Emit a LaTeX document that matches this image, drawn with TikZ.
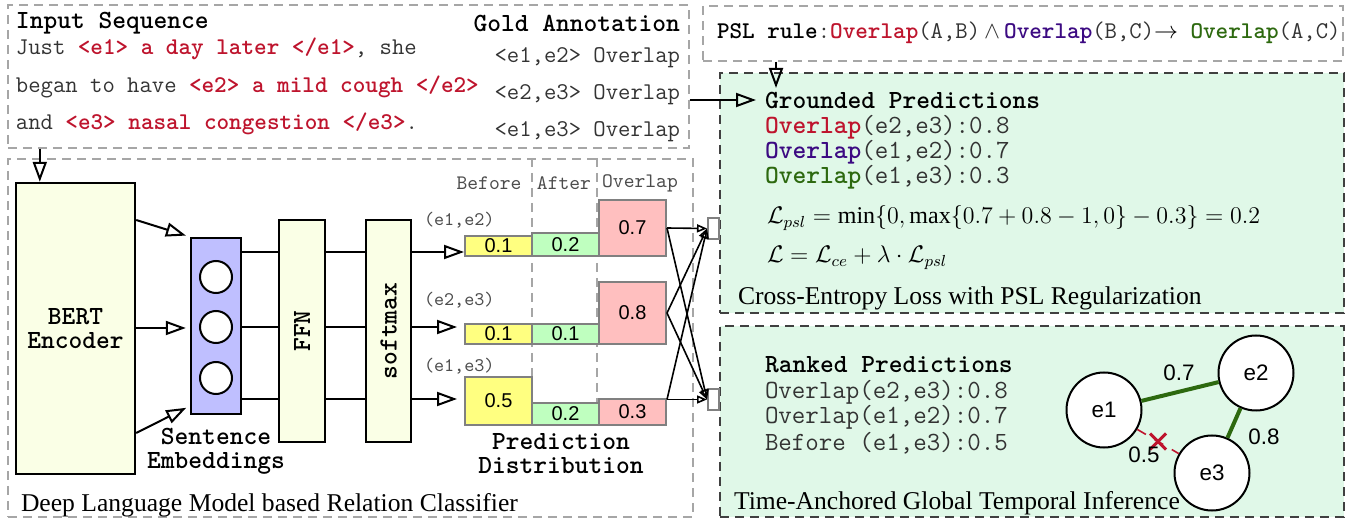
\documentclass[tikz,border=0pt]{standalone}
\usepackage{amsmath}
\usepackage{fontspec}
\setmainfont{Liberation Serif}
\newfontfamily\helv{Liberation Sans}
\usepackage{tikz}
\usetikzlibrary{arrows.meta}
\usetikzlibrary{positioning}
\usetikzlibrary{calc}

\definecolor{evred}{RGB}{190,20,45}
\definecolor{evpurple}{RGB}{60,10,130}
\definecolor{evgreen}{RGB}{45,105,15}
\definecolor{boxgreen}{RGB}{224,248,232}
\definecolor{bertfill}{RGB}{250,255,230}
\definecolor{embfill}{RGB}{191,191,255}
\definecolor{baryellow}{RGB}{255,255,128}
\definecolor{bargreen}{RGB}{191,255,191}
\definecolor{barred}{RGB}{255,191,191}

\newcommand{\fHead}{\fontsize{13.1}{12}\selectfont\ttfamily\bfseries}
\newcommand{\fBody}{\fontsize{12}{12}\selectfont\ttfamily}
\newcommand{\fPanel}{\fontsize{13.1}{13}\selectfont\ttfamily}
\newcommand{\fPair}{\fontsize{9.6}{10}\selectfont\ttfamily}
\newcommand{\fCol}{\fontsize{10.3}{10}\selectfont\ttfamily}
\newcommand{\fNum}{\fontsize{10}{12}\selectfont\helv}
\newcommand{\fGraph}{\fontsize{11.2}{13}\selectfont\helv}
\newcommand{\fCap}{\fontsize{12.8}{15}\selectfont\rmfamily}
\newcommand{\fMath}{\fontsize{12}{14}\selectfont}
\newcommand{\rtag}[1]{{\bfseries\color{evred}#1}}
\newcommand{\ovl}[1]{{\bfseries\color{#1}Overlap}}

\tikzset{
  panel/.style={draw=gray!70, dash pattern=on 4.5pt off 3pt, line width=0.8pt, anchor=north west},
  greenpanel/.style={draw=black!75, fill=boxgreen, dash pattern=on 4.5pt off 3pt, line width=0.8pt, anchor=north west},
  openarrow/.style={-{Triangle[open,length=10pt,width=7pt]}, line width=1pt},
  smallarrow/.style={-{Triangle[open,length=5pt,width=4pt]}, line width=0.8pt},
  block/.style={draw, line width=1.2pt, fill=bertfill},
  bar/.style={draw=gray, line width=1pt, anchor=south west, minimum width=33.5pt, font=\fNum},
  evnode/.style={draw, circle, line width=1pt, fill=white, minimum size=37.5pt, font=\fGraph},
  colsep/.style={draw=gray!70, dash pattern=on 4.5pt off 3pt, line width=0.8pt}
}

\begin{document}
\begin{tikzpicture}[x=0.5pt, y=-0.5pt, line width=1pt, every node/.style={inner sep=0pt}]
\useasboundingbox (0,0) rectangle (1351,518);

% panels
\node[panel, minimum width=340.5pt, minimum height=71.5pt] (inbox) at (7,4) {};
\node[panel, minimum width=342.5pt, minimum height=179pt] (clsbox) at (7,158) {};
\node[panel, minimum width=320pt, minimum height=27.5pt] (pslbox) at (702,5) {};
\node[greenpanel, minimum width=312pt, minimum height=120pt] (lossbox) at (719,72) {};
\node[greenpanel, minimum width=312pt, minimum height=95.5pt] (infbox) at (719,325) {};

% input sequence and gold annotation
\node[anchor=west, font=\fHead] (intitle) at (15,23) {Input Sequence};
\node[anchor=east, font=\fHead] (goldtitle) at (681,23) {Gold Annotation};
\node[anchor=west, font=\fBody, text=black!80] (sent1) at (15,49) {Just \rtag{<e1> a day later </e1>}, she};
\node[anchor=west, font=\fBody, text=black!80] (sent2) at (15,87) {began to have \rtag{<e2> a mild cough </e2>}};
\node[anchor=west, font=\fBody, text=black!80] (sent3) at (15,124) {and \rtag{<e3> nasal congestion </e3>}.};
\node[anchor=east, font=\fBody, text=black!80] (gold1) at (681,58) {<e1,e2> Overlap};
\node[anchor=east, font=\fBody, text=black!80] (gold2) at (681,95) {<e2,e3> Overlap};
\node[anchor=east, font=\fBody, text=black!80] (gold3) at (681,132) {<e1,e3> Overlap};

% PSL rule
\node[anchor=west, font=\fBody, text=black!80] (psl) at (716,33) {{\bfseries\color{black}PSL rule}:\ovl{evred}(A,B)$\,\wedge\,$\ovl{evpurple}(B,C){\color{black}$\rightarrow$} \ovl{evgreen}(A,C)};

% grounded predictions
\node[anchor=west, font=\fPanel\bfseries] (grounded) at (764,100) {Grounded Predictions};
\node[anchor=west, font=\fPanel, text=black!80] (gp1) at (764,127) {\ovl{evred}(e2,e3):0.8};
\node[anchor=west, font=\fPanel, text=black!80] (gp2) at (764,152) {\ovl{evpurple}(e1,e2):0.7};
\node[anchor=west, font=\fPanel, text=black!80] (gp3) at (764,177) {\ovl{evgreen}(e1,e3):0.3};
\node[anchor=west, font=\fMath] (lpsl) at (766,218) {$\mathcal{L}_{psl}=\min\{0,\max\{0.7+0.8-1,0\}-0.3\}=0.2$};
\node[anchor=west, font=\fMath] (ltot) at (766,258) {$\mathcal{L}=\mathcal{L}_{ce}+\lambda\cdot\mathcal{L}_{psl}$};
\node[anchor=west, font=\fCap] (losscap) at (737,298) {Cross-Entropy Loss with PSL Regularization};

\coordinate (gtip) at (776,88);
\draw[openarrow] (pslbox.south -| gtip) -- (gtip);
\draw[openarrow, shorten >=4pt] (grounded.west -| inbox.east) -- (grounded.west);

% classifier
\node[block, minimum width=59.5pt, minimum height=145.5pt, align=center, font=\fHead] (bert) at (75.5,328.5) {BERT\\Encoder};
\node[draw, line width=1.2pt, fill=embfill, minimum width=25pt, minimum height=88pt] (emb) at (216,326) {};
\node[draw, circle, line width=1pt, fill=white, minimum size=16pt] (c1) at (216,277) {};
\node[draw, circle, line width=1pt, fill=white, minimum size=16pt] (c2) at (216,327) {};
\node[draw, circle, line width=1pt, fill=white, minimum size=16pt] (c3) at (216,378) {};
\node[align=center, font=\fHead] (embcap) at (216,451) {Sentence\\Embeddings};
\node[block, minimum width=23pt, minimum height=111pt] (ffn) at (302,331) {};
\node[rotate=90, font=\fHead] at (ffn) {FFN};
\node[block, minimum width=22.5pt, minimum height=111pt] (soft) at (388.5,331) {};
\node[rotate=90, font=\fHead] at (soft) {softmax};

\coordinate (in) at ($(bert.north west)+(25,0)$);
\draw[openarrow] (inbox.south -| in) -- (in);
\draw[openarrow, shorten >=2pt] (bert.east |- 0,220) -- (emb.north west);
\draw[openarrow, shorten >=2pt] (bert.east |- 0,328) -- (emb.west |- 0,328);
\draw[openarrow, shorten >=2pt] (bert.east |- 0,433) -- (emb.west |- 0,406);

% prediction distribution
\draw[colsep] (532,158) -- (532,426);
\draw[colsep] (597,158) -- (597,426);
\node[font=\fCol, text=black!70] (hbefore) at (489,183) {Before};
\node[font=\fCol, text=black!70] (hafter) at (564,183) {After};
\node[font=\fCol, text=black!70] (hoverlap) at (640,183) {Overlap};

\node[anchor=west, font=\fPair, text=black!70] (p12) at (423,220) {(e1,e2)};
\node[anchor=west, font=\fPair, text=black!70] (p23) at (423,300) {(e2,e3)};
\node[anchor=west, font=\fPair, text=black!70] (p13) at (423,366) {(e1,e3)};

\node[bar, fill=baryellow, minimum height=10pt] (b12) at (464,257) {0.1};
\node[bar, fill=bargreen, minimum height=11.5pt] (a12) at (531,257) {0.2};
\node[bar, fill=barred, minimum height=28pt] (o12) at (598,257) {0.7};
\node[bar, fill=baryellow, minimum height=10pt] (b23) at (464,345) {0.1};
\node[bar, fill=bargreen, minimum height=10pt] (a23) at (531,345) {0.1};
\node[bar, fill=barred, minimum height=31pt] (o23) at (598,345) {0.8};
\node[bar, fill=baryellow, minimum height=24pt] (b13) at (464,426) {0.5};
\node[bar, fill=bargreen, minimum height=11pt] (a13) at (531,426) {0.2};
\node[bar, fill=barred, minimum height=13pt] (o13) at (598,426) {0.3};
\node[align=center, font=\fHead] (distcap) at (561,454) {Prediction\\Distribution};

\foreach \y/\b/\s in {252/b12/0, 327/b23/3.5, 399/b13/3.5}{
  \draw (emb.east |- 0,\y) -- (ffn.west |- 0,\y);
  \draw (ffn.east |- 0,\y) -- (soft.west |- 0,\y);
  \draw[openarrow, shorten >=\s pt] (soft.east |- 0,\y) -- (\b.west |- 0,\y);
}

\node[draw=gray, line width=1pt, fill=white, minimum width=5.5pt, minimum height=10.5pt] (gtop) at (713.5,228.5) {};
\node[draw=gray, line width=1pt, fill=white, minimum width=5.5pt, minimum height=10.5pt] (gbot) at (713.5,399.5) {};
\coordinate (s13) at (o13.east |- gbot.west);
\foreach \s in {o12.east, o23.east, s13}{
  \draw[smallarrow] (\s) -- (gtop.west);
  \draw[smallarrow] (\s) -- (gbot.west);
}

\node[anchor=west, font=\fCap] (clscap) at (20,505) {Deep Language Model based Relation Classifier};

% inference
\node[anchor=west, font=\fPanel\bfseries] (ranked) at (764,365) {Ranked Predictions};
\node[anchor=west, font=\fPanel, text=black!80] (rp1) at (764,392) {Overlap(e2,e3):0.8};
\node[anchor=west, font=\fPanel, text=black!80] (rp2) at (764,417) {Overlap(e1,e2):0.7};
\node[anchor=west, font=\fPanel, text=black!80] (rp3) at (764,443) {Before (e1,e3):0.5};

\node[evnode] (e1) at (1104,410) {e1};
\node[evnode] (e2) at (1256,373) {e2};
\node[evnode] (e3) at (1212,473) {e3};
\draw[evgreen, line width=2pt] (e1) -- (e2);
\draw[evgreen, line width=2pt] (e2) -- (e3);
\draw[evred, line width=0.8pt, dash pattern=on 5pt off 5pt] (e1) -- (e3);
\coordinate (xm) at ($(e1)!0.5!(e3)$);
\draw[evred, line width=1.5pt] ($(xm)+(-8,-8)$) -- ($(xm)+(8,8)$);
\draw[evred, line width=1.5pt] ($(xm)+(-8,8)$) -- ($(xm)+(8,-8)$);
\node[font=\fGraph] (w12) at (1179,373) {0.7};
\node[font=\fGraph] (w23) at (1264,437) {0.8};
\node[font=\fGraph] (w13) at (1144,455) {0.5};

\node[anchor=west, font=\fCap] (infcap) at (733,503) {Time-Anchored Global Temporal Inference};
\end{tikzpicture}
\end{document}
